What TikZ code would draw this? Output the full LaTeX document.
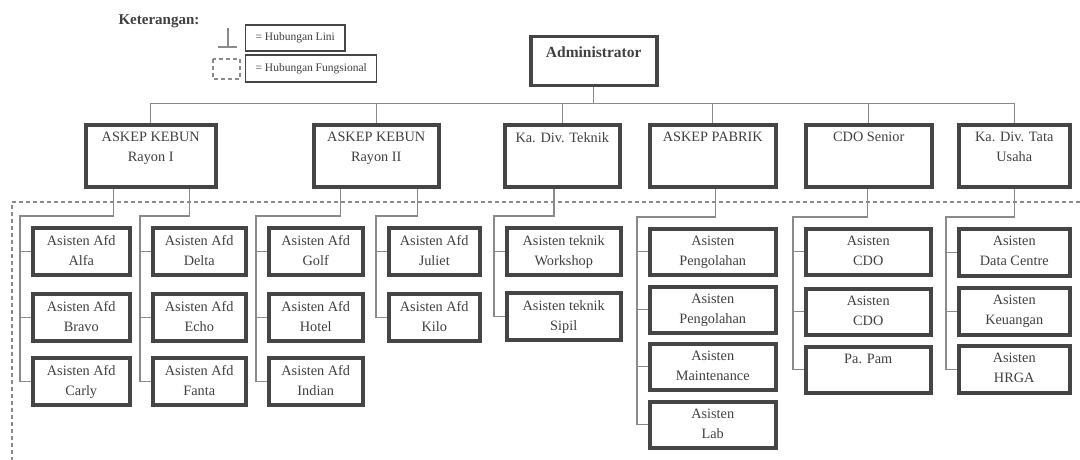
\documentclass[tikz,border=0pt]{standalone}
\usepackage{fontspec}
\setmainfont{Liberation Serif}
\usetikzlibrary{calc}
\definecolor{framegray}{HTML}{454545}
\definecolor{linegray}{HTML}{8A8A8A}
\definecolor{textgray}{HTML}{404040}

\begin{document}
\begin{tikzpicture}[x=1pt,y=-1pt,
  frame/.style={draw=framegray, line width=3.5pt, inner sep=0pt, anchor=north west},
  boxtext/.style={anchor=north, inner sep=0pt, align=center, text=textgray, font=\fontsize{14.3}{20}\selectfont, yshift=-9pt},
  conn/.style={draw=linegray, line width=1.3pt},
  legendbox/.style={draw=framegray, line width=1.2pt, anchor=west, inner xsep=10pt, minimum height=26pt, text=textgray, font=\fontsize{11.5}{14}\selectfont}]
		\useasboundingbox (0,0) rectangle (1080,460);
		% keterangan
		\node[anchor=west, text=textgray, font=\bfseries\fontsize{15}{18}\selectfont] (keterangan) at (115,21) {Keterangan:};
		\node[legendbox] (lini) at (245,38) {= Hubungan Lini};
		\node[legendbox, minimum height=27pt] (fungsional) at (245,68.5) {= Hubungan Fungsional};
		\draw[linegray, line width=1.2pt] (228,28) -- (228,47);
		\draw[linegray, line width=1.2pt] (218,47) -- (237,47);
		\draw[linegray, line width=1.2pt, dash pattern=on 4pt off 3pt] (213,59) rectangle (240,79);
		% garis fungsional
		\draw[linegray, line width=1.2pt, dash pattern=on 4pt off 3pt] (1080,202) -- (12,202) -- (12,460);
		% kotak
		\node[frame, minimum width=126, minimum height=49] (admin) at (529,35) {};
		\node[boxtext, yshift=-3pt, font=\bfseries\fontsize{15.5}{20}\selectfont] (admin-t) at (admin.north) {Administrator};
		\foreach \nm/\x/\y/\w/\h/\txt in {
		  rayon1/84/123/130/62/{ASKEP KEBUN\\Rayon I},
		  rayon2/312/123/125/62/{ASKEP KEBUN\\Rayon II},
		  teknik/503/123/115/62/{Ka. Div. Teknik},
		  pabrik/648/123/126/62/{ASKEP PABRIK},
		  cdo/804/123/126/62/{CDO Senior},
		  tu/957/123/111/62/{Ka. Div. Tata\\Usaha},
		  alfa/31/226/97/47/{Asisten Afd\\Alfa},
		  bravo/31/292/97/47/{Asisten Afd\\Bravo},
		  carly/31/356/97/47/{Asisten Afd\\Carly},
		  delta/151/226/93/47/{Asisten Afd\\Delta},
		  echo/151/292/93/47/{Asisten Afd\\Echo},
		  fanta/151/356/93/47/{Asisten Afd\\Fanta},
		  golf/267/226/94/47/{Asisten Afd\\Golf},
		  hotel/267/292/94/47/{Asisten Afd\\Hotel},
		  indian/267/356/94/47/{Asisten Afd\\Indian},
		  juliet/387/226/91/47/{Asisten Afd\\Juliet},
		  kilo/387/292/91/47/{Asisten Afd\\Kilo},
		  workshop/505/226/114/47/{Asisten teknik\\Workshop},
		  sipil/505/291/114/47/{Asisten teknik\\Sipil},
		  olah1/648/227/126/46/{Asisten\\Pengolahan},
		  olah2/648/285/126/46/{Asisten\\Pengolahan},
		  maint/648/342/126/46/{Asisten\\Maintenance},
		  lab/648/400/126/46/{Asisten\\Lab},
		  cdo1/804/227/125/46/{Asisten\\CDO},
		  cdo2/804/287/125/46/{Asisten\\CDO},
		  pam/804/345/125/46/{Pa. Pam},
		  datac/957/227/111/47/{Asisten\\Data Centre},
		  uang/957/286/111/47/{Asisten\\Keuangan},
		  hrga/957/344/111/47/{Asisten\\HRGA}}
		{
		  \node[frame, minimum width=\w, minimum height=\h] (\nm) at (\x,\y) {};
		  \node[boxtext] (\nm-t) at (\nm.north) {\txt};
		}
		% hubungan lini
		\foreach \n in {rayon1,rayon2,teknik,pabrik,cdo,tu}
		  \draw[conn] (admin.south) -- ++(0,16) -| (\n.north);
		\foreach \chief/\f/\fst/\lst/\rest in {
		  rayon1/0.22/alfa/carly/{alfa,bravo},
		  rayon1/0.79/delta/fanta/{delta,echo},
		  rayon2/0.22/golf/indian/{golf,hotel},
		  rayon2/0.82/juliet/kilo/{juliet},
		  teknik/0.43/workshop/sipil/{workshop},
		  pabrik/0.52/olah1/lab/{olah1,olah2,maint},
		  cdo/0.49/cdo1/pam/{cdo1,cdo2},
		  tu/0.5/datac/hrga/{datac,uang}}
		{
		  \coordinate (rail) at ([xshift=-11pt,yshift=10pt]\fst.north west);
		  \draw[conn] ($(\chief.south west)!\f!(\chief.south east)$) |- (rail) |- (\lst.west);
		  \foreach \m in \rest
		    \draw[conn] (rail |- \m.west) -- (\m.west);
		}
	\end{tikzpicture}
\end{document}
